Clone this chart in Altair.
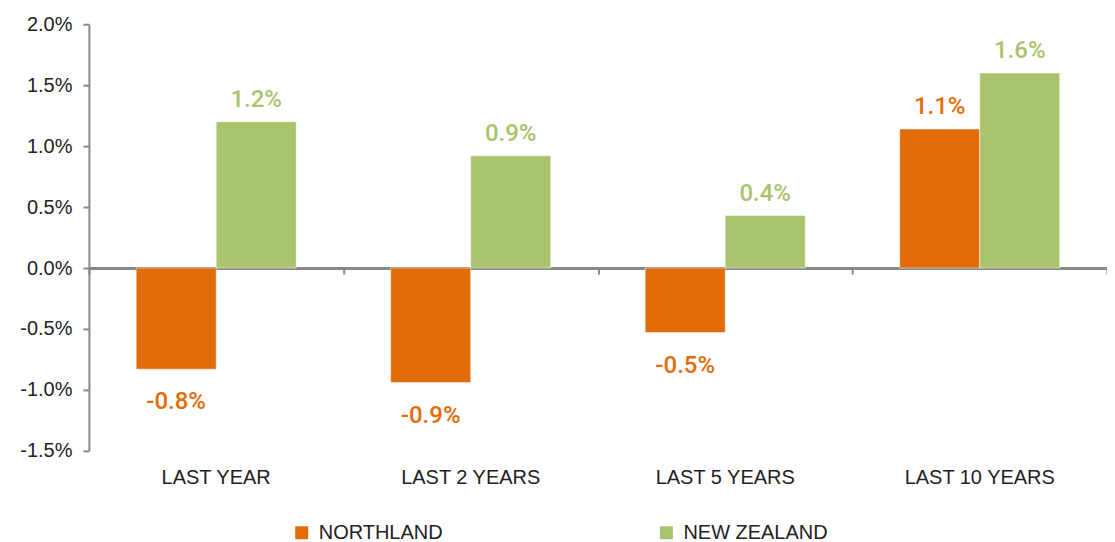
import altair as alt
import pandas as pd

categories = ["LAST YEAR", "LAST 2 YEARS", "LAST 5 YEARS", "LAST 10 YEARS"]
series = ["NORTHLAND", "NEW ZEALAND"]
northland = [-0.0083, -0.0094, -0.0053, 0.0114]
new_zealand = [0.0120, 0.0092, 0.0043, 0.0160]
colors = ["#E36C0A", "#A9C46C"]

rows = []
for c, n, z in zip(categories, northland, new_zealand):
    rows.append({"cat": c, "series": series[0], "value": n})
    rows.append({"cat": c, "series": series[1], "value": z})
df = pd.DataFrame(rows)
df["label"] = df["value"].map(lambda v: f"{v * 100:.1f}%")

FONT = "Liberation Sans"
LABEL_FONT = "Roboto"
MINUS = "\u2212"

x_enc = alt.X("cat:N", sort=categories, title=None,
              scale=alt.Scale(paddingInner=0, paddingOuter=0),
              axis=alt.Axis(labelAngle=0, labelFontSize=20, labelColor="#222222",
                            labelFont=FONT, labelPadding=17, domain=False, ticks=False))
xo_enc = alt.XOffset("series:N", sort=series,
                     scale=alt.Scale(paddingInner=0, paddingOuter=0.59))
y_enc = alt.Y("value:Q", title=None,
              scale=alt.Scale(domain=[-0.015, 0.02], nice=False),
              axis=alt.Axis(values=[-0.015, -0.01, -0.005, 0, 0.005, 0.01, 0.015, 0.02],
                            labelExpr=f"replace(format(datum.value, '.1%'), '{MINUS}', '-')",
                            labelFontSize=20, labelColor="#222222", labelFont=FONT,
                            domainColor="#888888", domainWidth=2, tickColor="#888888",
                            tickWidth=2, tickSize=6, labelPadding=11, grid=False))
color_enc = alt.Color("series:N", sort=series,
                      scale=alt.Scale(domain=series, range=colors),
                      legend=alt.Legend(title=None, orient="none", legendX=203, legendY=499,
                                        direction="horizontal", symbolType="square",
                                        symbolSize=169, symbolStrokeWidth=0,
                                        labelFontSize=20, labelFont=FONT, labelColor="#222222",
                                        columnPadding=213, labelOffset=7))

bars = alt.Chart(df).mark_bar(stroke="white", strokeWidth=0.5).encode(
    x=x_enc, xOffset=xo_enc, y=y_enc, color=color_enc)

x_plain = alt.X("cat:N", sort=categories, axis=None)

pos = alt.Chart(df).transform_filter("datum.value >= 0").mark_text(
    baseline="bottom", dy=-10, fontSize=24, font=LABEL_FONT, fontWeight=500).encode(
    x=x_plain, xOffset=alt.XOffset("series:N", sort=series),
    y="value:Q", text="label:N",
    color=alt.Color("series:N", sort=series, legend=None))

neg = alt.Chart(df).transform_filter("datum.value < 0").mark_text(
    baseline="top", dy=21, fontSize=24, font=LABEL_FONT, fontWeight=500).encode(
    x=x_plain, xOffset=alt.XOffset("series:N", sort=series),
    y="value:Q", text="label:N",
    color=alt.Color("series:N", sort=series, legend=None))

zero_axis = alt.Chart(df).mark_tick(opacity=0).encode(
    x=alt.X("cat:N", sort=categories, title=None,
            axis=alt.Axis(orient="bottom", offset=-183, labels=False, domainColor="#888888",
                          domainWidth=3, tickColor="#888888", tickWidth=2, tickSize=6,
                          tickBand="extent")),
)

chart = alt.layer(bars, pos, neg, zero_axis).resolve_axis(x="independent").properties(
    width=1019, height=427,
    autosize=alt.AutoSizeParams(type="none"),
    padding={"left": 81, "top": 16, "right": 0, "bottom": 94},
).configure_view(stroke=None)

chart.save("out.html", embed_options={"renderer": "svg", "actions": False})
